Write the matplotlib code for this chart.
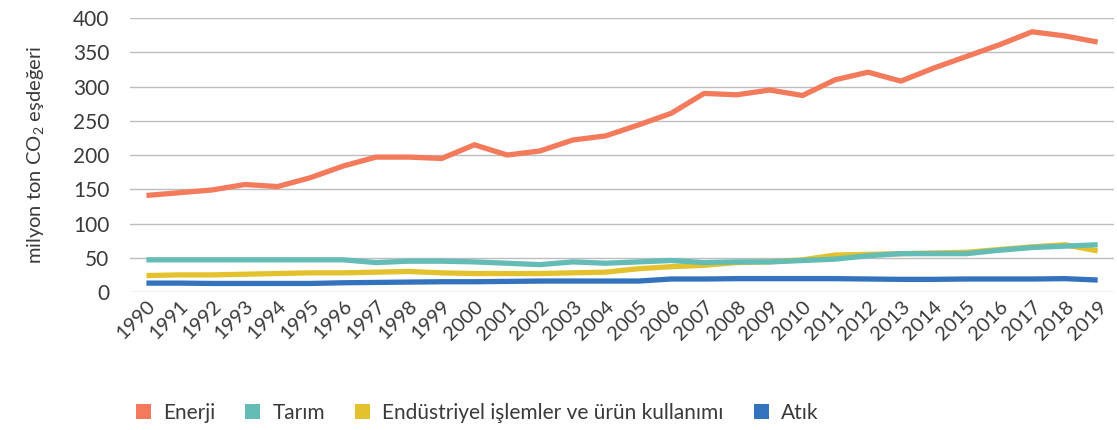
import matplotlib.pyplot as plt
from matplotlib.patches import Patch

years = list(range(1990, 2020))
enerji = [141, 145, 149, 157, 154, 167, 184, 197, 197, 195,
          215, 200, 206, 222, 228, 244, 261, 290, 288, 295,
          287, 310, 321, 308, 327, 344, 361, 380, 374, 365]
tarim = [47, 47, 47, 47, 47, 47, 47, 43, 45, 45,
         44, 42, 40, 44, 42, 44, 46, 43, 44, 44,
         46, 48, 53, 56, 56, 56, 61, 65, 67, 69]
endustri = [24, 25, 25, 26, 27, 28, 28, 29, 30, 28,
            27, 27, 27, 28, 29, 34, 37, 39, 43, 44,
            47, 54, 55, 56, 57, 58, 62, 66, 69, 60]
atik = [13, 13, 12.5, 12.5, 12.5, 12.5, 13.5, 14, 14.5, 15,
        15, 15.5, 16, 16, 16, 16, 19, 19, 19.5, 19.5,
        19.5, 19.5, 19, 18.5, 18.5, 19, 19, 19, 19.5, 17.5]

names = ["Enerji", "Tarım", "Endüstriyel işlemler ve ürün kullanımı", "Atık"]
colors = ["#F47A5C", "#63BCB5", "#E3C22D", "#3372BD"]
series = [enerji, tarim, endustri, atik]
zorders = [4, 4, 3, 5]

plt.rcParams["font.family"] = ["Lato", "DejaVu Sans"]
plt.rcParams["mathtext.fontset"] = "custom"
plt.rcParams["mathtext.rm"] = "Lato"
TXT = "#3a3a3a"

fig = plt.figure(figsize=(11.17, 4.30), dpi=100)
ax = fig.add_axes([0.1164, 0.3209, 0.881, 0.637])

x = list(range(len(years)))
for vals, c, z in zip(series, colors, zorders):
    ax.plot(x, vals, color=c, lw=3.8, solid_capstyle="butt", zorder=z)

ax.set_xlim(-0.5, len(years) - 0.5)
ax.set_ylim(0, 400)
ax.set_yticks(range(0, 401, 50))
ax.grid(axis="y", color="#BDBDBD", lw=1.0, zorder=0)
for s in ax.spines.values():
    s.set_visible(False)
ax.tick_params(axis="y", length=0, pad=15, labelsize=15, labelcolor=TXT)
ax.tick_params(axis="x", length=0, pad=4, labelsize=14.5, labelcolor=TXT)
ax.set_xticks(x)
ax.set_xticklabels([str(y) for y in years], rotation=45, ha="right",
                   va="top", rotation_mode="anchor")

fig.text(0.032, 0.64, r"milyon ton CO$\mathregular{_2}$ eşdeğeri", rotation=90,
         ha="center", va="center", fontsize=14.5, color=TXT)

handles = [Patch(facecolor=c, edgecolor="none") for c in colors]
fig.legend(handles, names, loc="center left", bbox_to_anchor=(0.105, 0.04),
           ncol=4, frameon=False, fontsize=15, handlelength=0.7,
           handleheight=0.7, handletextpad=0.6, columnspacing=1.45,
           labelcolor=TXT)

fig.savefig("out.png", dpi=100)
